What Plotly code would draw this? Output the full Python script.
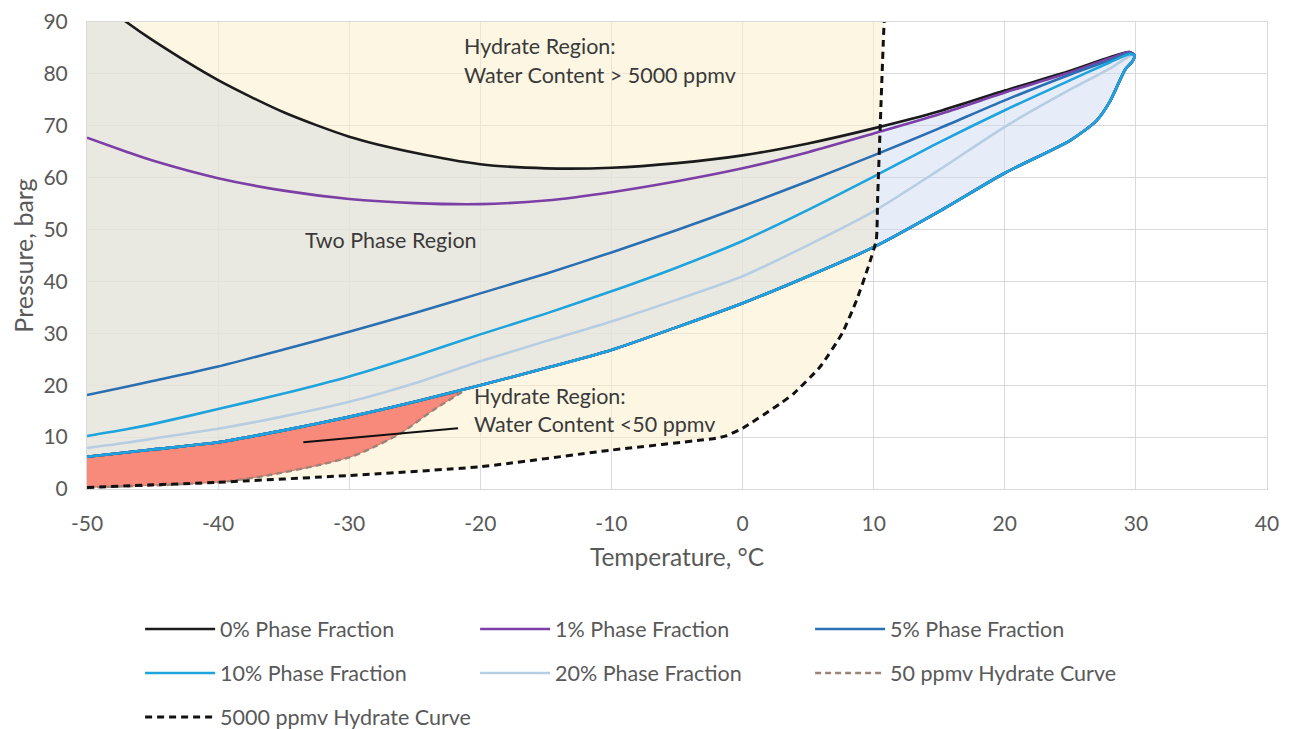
import numpy as np
import plotly.graph_objects as go

# ---------------- data ----------------
# upper branches of the phase-fraction lines (temperature, °C)
UPPER_T = [-50, -47, -45, -40, -35, -30, -25, -20, -15, -10, -5, 0, 5, 10, 15, 20, 25, 28, 29.5]
P_0 = [95.8, 90.0, 86.5, 78.8, 72.6, 67.9, 64.8, 62.6, 61.8, 61.9, 62.8, 64.3, 66.6, 69.5, 72.8, 76.8, 80.6, 83.2, 84.2]
P_1 = [67.7, 65.0, 63.3, 59.9, 57.5, 55.9, 55.1, 54.9, 55.6, 57.2, 59.3, 61.8, 64.9, 68.5, 72.2, 76.4, 80.3, 83.0, 84.2]
P_5 = [18.1, 19.7, 20.8, 23.6, 26.9, 30.3, 33.9, 37.7, 41.5, 45.6, 49.9, 54.5, 59.3, 64.3, 69.5, 74.9, 79.9, 82.6, 84.0]
P_10 = [10.2, 11.5, 12.5, 15.4, 18.4, 21.7, 25.6, 29.8, 33.8, 38.1, 42.7, 47.8, 53.8, 60.2, 66.8, 73.0, 78.8, 82.2, 83.8]
P_20 = [7.9, 8.9, 9.7, 11.6, 14.0, 16.8, 20.4, 24.6, 28.5, 32.3, 36.5, 41.0, 47.0, 53.5, 61.5, 69.8, 77.0, 81.0, 83.4]

# lower (shared) branch, including the tip near the critical point
LOWER_T = [-50, -45, -40, -35, -30, -25, -20, -15, -10, -5, 0, 5, 10, 15, 20, 25, 27, 28, 29.2, 29.7, 29.9]
LOWER_P = [6.2, 7.6, 9.0, 11.3, 13.9, 16.8, 20.0, 23.3, 26.8, 31.2, 35.8, 41.0, 46.6, 53.5, 60.9, 67.2, 71.0, 74.6, 80.9, 82.3, 83.6]

# hydrate curves
H50_T = [-50, -45, -40, -38.9, -36.3, -32.5, -30, -28.7, -26.1, -23.6, -21.4]
H50_P = [0.3, 0.7, 1.3, 1.6, 2.6, 4.5, 6.1, 7.4, 10.7, 15.2, 18.7]
H5000_T = [-50, -40, -30, -20, -10, -2, -1.2, 0, 2.9, 3.9, 5.9, 7.6, 8.7, 9.6, 10.2, 10.3, 10.5, 10.8, 10.9]
H5000_P = [0.3, 1.3, 2.6, 4.3, 7.5, 9.8, 10.3, 11.7, 16.5, 18.4, 23.5, 30.0, 36.4, 42.9, 48.0, 55.8, 70.0, 90.0, 93.0]

SERIES = [
    ("0% Phase Fraction", P_0, "#1b1b1b"),
    ("1% Phase Fraction", P_1, "#7b3fa6"),
    ("5% Phase Fraction", P_5, "#2b6fb3"),
    ("10% Phase Fraction", P_10, "#1fa3dc"),
    ("20% Phase Fraction", P_20, "#b7cde2"),
]

# callout line for the lower annotation (data coordinates)
CALLOUT_T = [-33.5, -21.7]
CALLOUT_P = [9.0, 11.7]

X_TICKS = list(range(-50, 41, 10))
X_TICK_TEXT = [str(v) for v in X_TICKS]
Y_TICKS = list(range(0, 91, 10))

FONT = "Lato"
GREY = "#595959"
PAGE_OFFSET = 8  # default body margin of the written html page

# ---------------- derived geometry ----------------
ut = np.array(UPPER_T, float)
lt = np.array(LOWER_T, float)
hT = np.array(H5000_T, float)
hP = np.array(H5000_P, float)


def hyd_T(p):
    return np.interp(p, hP, hT)


def crossing(tx, px):
    d = np.linspace(tx[0], tx[-1], 4000)
    pd = np.interp(d, tx, px)
    diff = d - hyd_T(pd)
    idx = np.where(np.diff(np.sign(diff)) != 0)[0][0]
    return d[idx], pd[idx]


up0 = np.array(P_0, float)
lp = np.array(LOWER_P, float)
tu, pu = crossing(ut, up0)
tl, pl = crossing(lt[:-3], lp[:-3])
ph = np.linspace(pl, pu, 40)

# left (inside hydrate region) part of the two-phase envelope
mU = ut < tu
mL = lt < tl
left_x = list(ut[mU]) + [tu] + list(hyd_T(ph[::-1])) + [tl] + list(lt[mL][::-1])
left_y = list(up0[mU]) + [pu] + list(ph[::-1]) + [pl] + list(lp[mL][::-1])
# right part
right_x = [tu] + list(ut[~mU]) + list(lt[~mL][::-1]) + [tl] + list(hyd_T(ph))
right_y = [pu] + list(up0[~mU]) + list(lp[~mL][::-1]) + [pl] + list(ph)

# beige hydrate region (upper-left of 5000 ppmv curve)
beige_x = list(hT) + [X_TICKS[0], X_TICKS[0]]
beige_y = list(hP) + [hP[-1], hP[0]]

# red region: between the lower branch and the 50 ppmv curve
mR = lt < H50_T[-1]
red_x = list(lt[mR]) + [H50_T[-1]] + list(H50_T[::-1])
red_y = list(lp[mR]) + [H50_P[-1]] + list(H50_P[::-1])

fig = go.Figure()

fig.add_trace(go.Scatter(x=beige_x, y=beige_y, fill="toself", mode="none",
                         fillcolor="rgba(249,238,204,0.55)", showlegend=False, hoverinfo="skip"))
fig.add_trace(go.Scatter(x=left_x, y=left_y, fill="toself", mode="none",
                         fillcolor="rgba(222,224,224,0.62)", showlegend=False, hoverinfo="skip"))
fig.add_trace(go.Scatter(x=right_x, y=right_y, fill="toself", mode="none",
                         fillcolor="rgba(206,220,242,0.5)", showlegend=False, hoverinfo="skip"))
fig.add_trace(go.Scatter(x=red_x, y=red_y, fill="toself", mode="lines",
                         line=dict(color="rgba(200,90,80,0.7)", width=1, shape="spline", smoothing=0.6),
                         fillcolor="rgba(247,128,114,0.92)", showlegend=False, hoverinfo="skip"))

# phase fraction loops (draw 20% first so the shared lower branch shows the blue lines)
order = [4, 0, 1, 2, 3]
legend_row = {0: "legend", 1: "legend", 2: "legend", 3: "legend2", 4: "legend2"}
for i in order:
    name, P, col = SERIES[i]
    xs = list(UPPER_T) + list(LOWER_T[::-1])
    ys = list(P) + list(LOWER_P[::-1])
    fig.add_trace(go.Scatter(x=xs, y=ys, mode="lines", name=name,
                             line=dict(color=col, width=2.6, shape="spline", smoothing=0.7),
                             legend=legend_row[i], legendrank=i + 1))

fig.add_trace(go.Scatter(x=H50_T, y=H50_P, mode="lines", name="50 ppmv Hydrate Curve",
                         line=dict(color="#9c8378", width=2.4, dash="6px,4px", shape="spline", smoothing=0.6),
                         legend="legend2", legendrank=6))
fig.add_trace(go.Scatter(x=H5000_T, y=H5000_P, mode="lines", name="5000 ppmv Hydrate Curve",
                         line=dict(color="#111111", width=3, dash="7px,5px", shape="spline", smoothing=0.5),
                         legend="legend3", legendrank=7))

fig.add_shape(type="line", x0=CALLOUT_T[0], y0=CALLOUT_P[0], x1=CALLOUT_T[1], y1=CALLOUT_P[1],
              line=dict(color="#111111", width=2))

ann_font = dict(family=FONT, size=21.5, color="#3a3a3a")
for x, y, t in [(-21.4, 85.3, "Hydrate Region:"), (-21.4, 79.8, "Water Content > 5000 ppmv"),
                (-33.5, 48.0, "Two Phase Region"),
                (-20.6, 17.9, "Hydrate Region:"), (-20.6, 12.5, "Water Content <50 ppmv")]:
    fig.add_annotation(x=x, y=y, text=t, showarrow=False, xanchor="left", yanchor="middle", font=ann_font)

axis_common = dict(showgrid=True, gridcolor="#d9d9d9", gridwidth=1, zeroline=False,
                   showline=True, linecolor="#d9d9d9", mirror=True, ticks="", automargin=False,
                   tickfont=dict(family=FONT, size=21, color=GREY))
fig.update_xaxes(range=[-50, 40], tickvals=X_TICKS, ticktext=X_TICK_TEXT, ticklabelstandoff=16,
                 **axis_common,
                 title=dict(text="Temperature, °C", font=dict(family=FONT, size=24.5, color=GREY), standoff=14))
fig.update_yaxes(range=[0, 90], tickvals=Y_TICKS, ticklabelstandoff=14, **axis_common,
                 title=dict(text="Pressure, barg", font=dict(family=FONT, size=25, color=GREY), standoff=8))

leg_common = dict(orientation="h", xanchor="left", yanchor="middle", x=0.045, yref="container",
                  font=dict(family=FONT, size=21.5, color=GREY), itemwidth=70,
                  entrywidth=250, entrywidthmode="pixels", bgcolor="rgba(0,0,0,0)",
                  traceorder="normal")
H = 729
fig.update_layout(
    width=1294, height=H,
    margin=dict(l=87 - PAGE_OFFSET, r=27 + PAGE_OFFSET, t=22 - PAGE_OFFSET, b=240 + PAGE_OFFSET,
                autoexpand=False),
    paper_bgcolor="white", plot_bgcolor="white",
    legend=dict(y=1 - (629 - PAGE_OFFSET) / H, **leg_common),
    legend2=dict(y=1 - (673 - PAGE_OFFSET) / H, **leg_common),
    legend3=dict(y=1 - (717 - PAGE_OFFSET) / H, **leg_common),
    showlegend=True,
)

fig.write_html("out.html")
